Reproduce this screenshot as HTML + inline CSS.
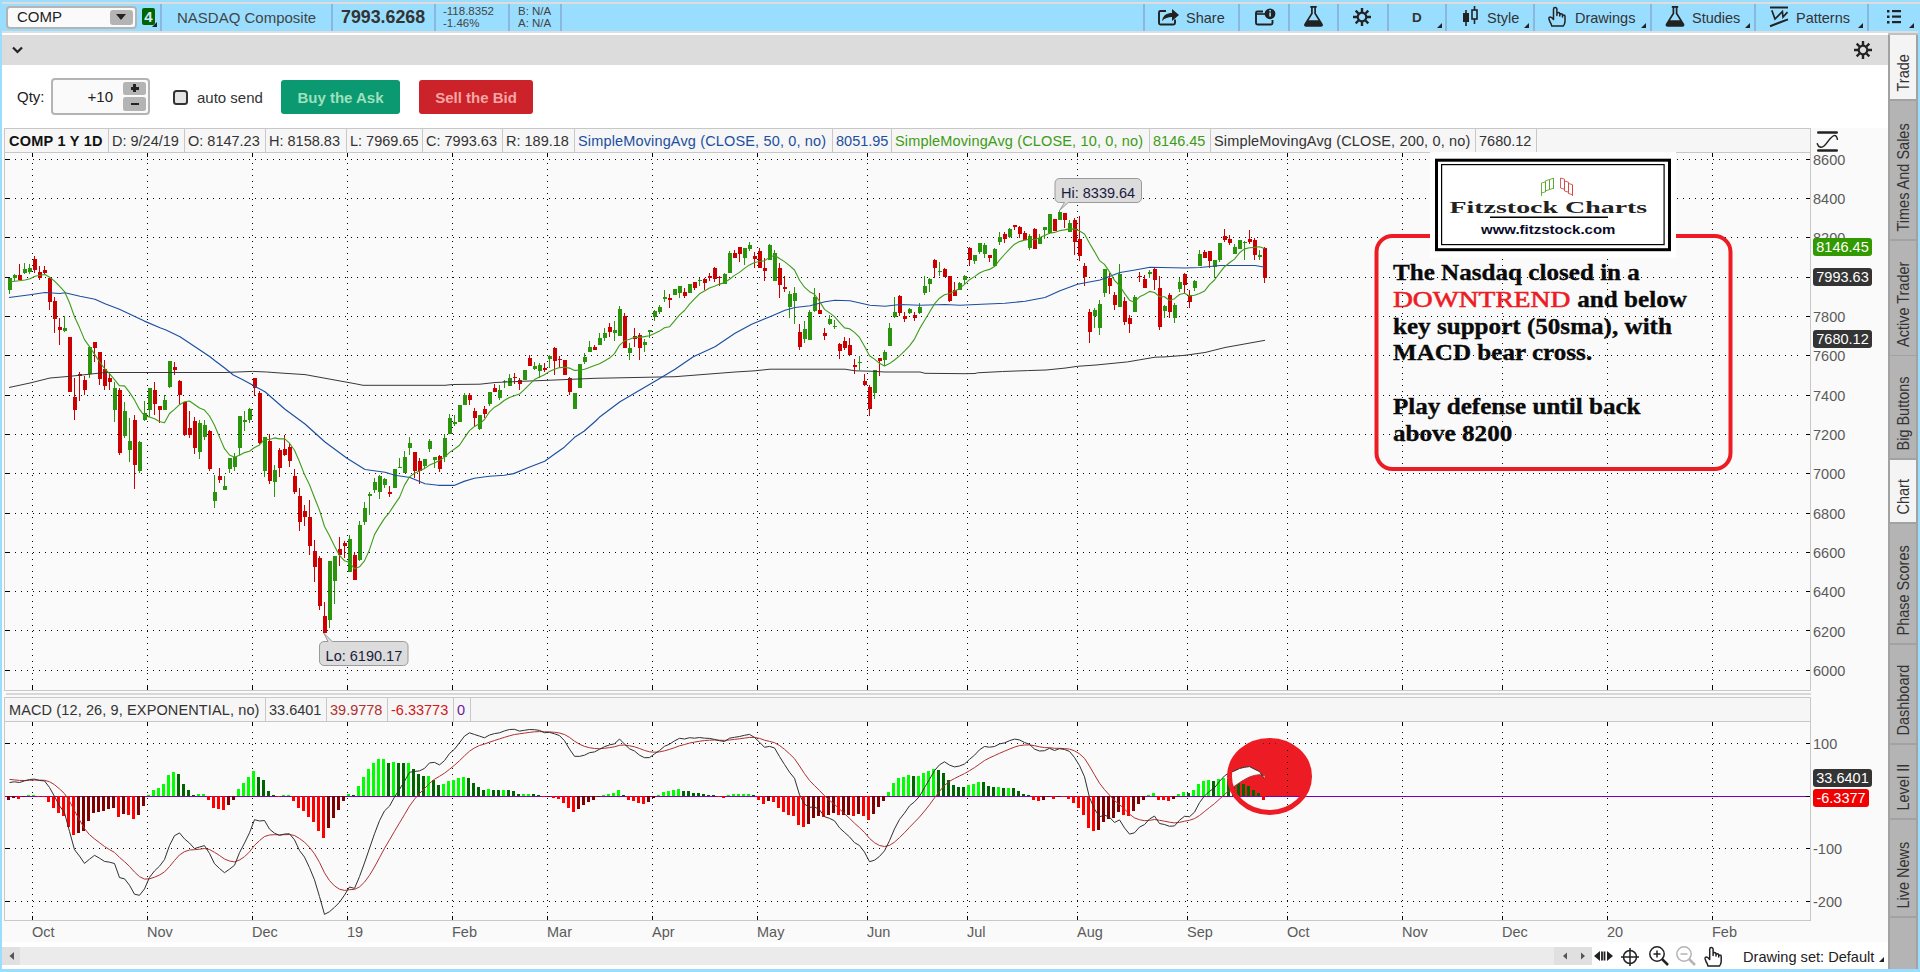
<!DOCTYPE html>
<html><head><meta charset="utf-8"><title>COMP chart</title>
<style>
html,body{margin:0;padding:0;}
body{width:1920px;height:972px;overflow:hidden;background:#fff;font-family:"Liberation Sans",sans-serif;font-size:14.5px;color:#333;position:relative;}
.abs{position:absolute;}
.tb{position:absolute;left:0;top:0;width:1920px;height:31px;background:#9adeff;}
.sep{position:absolute;top:4px;width:2px;height:27px;background:#8ab8dc;}
.tbt{position:absolute;top:8.700px;font-size:14.5px;color:#333;white-space:nowrap;line-height:18px;}
.tri{position:absolute;width:0;height:0;border-left:5px solid transparent;border-bottom:5px solid #222;}
.hc{position:absolute;top:0;height:23px;line-height:25px;border-right:1px solid #c8c8c8;white-space:nowrap;font-size:14.5px;box-sizing:border-box;padding-left:4px;color:#333;}
.vt{position:absolute;left:1888px;width:28px;white-space:nowrap;font-size:14.5px;color:#333;}
.vt span{position:absolute;left:50%;top:50%;transform:translate(-50%,-50%) rotate(-90deg);display:block;}
.badge{position:absolute;left:1813px;height:18px;line-height:19px;border-radius:3px;color:#fff;font-size:14.5px;text-align:center;}
.ylab{position:absolute;left:1813px;font-size:14.5px;color:#5a5a5a;line-height:16px;}
.xlab{position:absolute;top:924.400px;font-size:14.5px;color:#5a5a5a;line-height:16px;}
</style></head><body>

<div class="tb"></div>
<div class="abs" style="left:0;top:2px;width:1920px;height:2px;background:#e0dcdc"></div>
<div class="abs" style="left:0;top:31px;width:1920px;height:2px;background:#dedede"></div>
<div class="abs" style="left:0;top:35px;width:1888px;height:30px;background:#dcdcdc"></div>
<div class="abs" style="left:6px;top:6px;width:131px;height:23px;box-sizing:border-box;border:2px solid #b4b4b4;border-radius:4px;background:#fafafa"></div>
<div class="abs" style="left:17px;top:8px;font-size:15px;line-height:18px;color:#222">COMP</div>
<div class="abs" style="left:110px;top:10px;width:23px;height:15px;background:#b4b4b4;border-radius:3px"></div>
<div class="abs" style="left:115.5px;top:14px;width:0;height:0;border-left:5.5px solid transparent;border-right:5.5px solid transparent;border-top:6px solid #222"></div>
<div class="abs" style="left:142px;top:8px;width:13px;height:17px;background:#006400;border-radius:2px;color:#cfe8ff;font-weight:bold;font-size:15px;line-height:17px;text-align:center">4</div>
<div class="tri" style="left:152px;top:22px"></div>
<div class="sep" style="left:160px"></div>
<div class="sep" style="left:331px"></div>
<div class="sep" style="left:434px"></div>
<div class="sep" style="left:508px"></div>
<div class="sep" style="left:560px"></div>
<div class="sep" style="left:1143px"></div>
<div class="sep" style="left:1238px"></div>
<div class="sep" style="left:1288px"></div>
<div class="sep" style="left:1337px"></div>
<div class="sep" style="left:1387px"></div>
<div class="sep" style="left:1445px"></div>
<div class="sep" style="left:1533px"></div>
<div class="sep" style="left:1650px"></div>
<div class="sep" style="left:1754px"></div>
<div class="sep" style="left:1867px"></div>
<div class="tbt" style="left:177px;color:#444;font-size:15px">NASDAQ Composite</div>
<div class="abs" style="left:341px;top:7px;font-size:17.800px;font-weight:bold;color:#333;line-height:20px">7993.6268</div>
<div class="abs" style="left:443px;top:5px;font-size:11.5px;line-height:12px;color:#444">-118.8352<br>-1.46%</div>
<div class="abs" style="left:518px;top:5px;font-size:11.5px;line-height:12px;color:#444">B: N/A<br>A: N/A</div>
<div class="tbt" style="left:1186px">Share</div>
<div class="tbt" style="left:1412px;font-weight:bold;font-size:13.5px">D</div>
<div class="tbt" style="left:1487px">Style</div>
<div class="tbt" style="left:1575px">Drawings</div>
<div class="tbt" style="left:1692px">Studies</div>
<div class="tbt" style="left:1796px">Patterns</div>
<div class="tri" style="left:1437px;top:23px"></div>
<div class="tri" style="left:1524px;top:23px"></div>
<div class="tri" style="left:1641px;top:23px"></div>
<div class="tri" style="left:1745px;top:23px"></div>
<div class="tri" style="left:1858px;top:23px"></div>
<div class="tri" style="left:1909px;top:23px"></div>
<svg class="abs" style="left:0;top:0" width="1920" height="70" viewBox="0 0 1920 70" fill="none" stroke="#222" stroke-width="1.6">
<!-- share -->
<path d="M1166 11 h-5.500 q-1.500 0 -1.500 1.500 v10.500 q0 1.500 1.500 1.500 h13 q1.500 0 1.500 -1.500 v-3.500" stroke-width="1.900"/>
<path d="M1162 21 c1 -6 5 -8 10 -8 v-4 l7 6 -7 6 v-4 c-4 0 -7 1 -10 4z" fill="#222" stroke="none"/>
<!-- news/info -->
<path d="M1263 11.500 h-5.500 q-1.500 0 -1.500 1.500 v10 q0 1.500 1.500 1.500 h13.500 q1.500 0 1.500 -1.500 v-3" stroke-width="1.900"/>
<path d="M1256 14 h9" />
<circle cx="1270" cy="13.800" r="5.400" fill="#222" stroke="none"/>
<rect x="1269.3" y="12.5" width="1.6" height="4" fill="#9adeff" stroke="none"/><rect x="1269.3" y="10" width="1.6" height="1.5" fill="#9adeff" stroke="none"/>
<!-- flask1 -->
<g><path d="M1310.300 6.900 h6.400" stroke-width="1.800"/><path d="M1311.900 7 v6.500 l-6.700 10.600 q-0.900 1.700 1 1.700 h14.600 q1.900 0 1 -1.700 l-6.700 -10.600 v-6.500" stroke-width="1.700"/><path d="M1307.700 20.200 h11.600 l3 4.700 q0.500 1 -0.800 1 h-16 q-1.300 0 -0.800 -1z" fill="#222" stroke="none"/></g>
<!-- gear1 -->
<g transform="translate(1362,17)"><circle r="4.300" stroke-width="2.200"/><g stroke-width="2.400"><path d="M0 -5 v-4 M0 5 v4 M-5 0 h-4 M5 0 h4 M3.500 3.500 l2.800 2.800 M-3.500 3.500 l-2.800 2.800 M3.500 -3.500 l2.800 -2.800 M-3.500 -3.500 l-2.800 -2.800"/></g></g>
<!-- style candles -->
<rect x="1463" y="13" width="6" height="9" fill="#222" stroke="none"/><path d="M1466 10 v16" />
<rect x="1472" y="10" width="5" height="9" /><path d="M1474.500 6 v4 M1474.500 19 v5" />
<!-- hand drawings -->
<g stroke-width="1.500" stroke-linecap="round" stroke-linejoin="round"><path d="M1553.500 19.500 V9.200 a1.700 1.700 0 0 1 3.400 0 V15.500 M1556.900 14 a1.450 1.450 0 0 1 2.900 0 V16 M1559.800 15 a1.350 1.350 0 0 1 2.700 0 V17 M1562.500 16.300 a1.250 1.250 0 0 1 2.500 0 V21.500 q0 2.200 -1.800 4.600 H1551.800 q-0.400 -2.400 -2 -4.600 l-0.900 -2.800 q-0.200 -1.600 1.400 -1.600 q1.300 0 3.200 2.400"/></g>
<!-- flask studies -->
<g transform="translate(361.500 0)"><path d="M1310.300 6.900 h6.400" stroke-width="1.800"/><path d="M1311.900 7 v6.500 l-6.700 10.600 q-0.900 1.700 1 1.700 h14.600 q1.900 0 1 -1.700 l-6.700 -10.600 v-6.500" stroke-width="1.700"/><path d="M1307.700 20.200 h11.600 l3 4.700 q0.500 1 -0.800 1 h-16 q-1.300 0 -0.800 -1z" fill="#222" stroke="none"/></g>
<!-- patterns -->
<path d="M1770 7.600 h18 M1770 26.200 l18 -6.800" stroke-width="2"/><path d="M1771.800 10.200 l3.200 8.800 7.400 -7.500 0.600 5.500 4.500 -4.800" stroke-width="1.700"/>
<!-- list -->
<g fill="#222" stroke="none"><rect x="1887" y="10" width="2.500" height="2.500"/><rect x="1887" y="15.500" width="2.500" height="2.500"/><rect x="1887" y="21" width="2.500" height="2.500"/><rect x="1892" y="10" width="9" height="2.200"/><rect x="1892" y="15.500" width="9" height="2.200"/><rect x="1892" y="21" width="9" height="2.200"/></g>
<!-- chevron -->
<path d="M13 47.500 l4.500 4.500 4.500 -4.500" stroke-width="2.200"/>
<!-- gear2 -->
<g transform="translate(1863,50)"><circle r="4.300" stroke-width="2.200"/><g stroke-width="2.400"><path d="M0 -5 v-4 M0 5 v4 M-5 0 h-4 M5 0 h4 M3.500 3.500 l2.800 2.800 M-3.500 3.500 l-2.800 2.800 M3.500 -3.500 l2.800 -2.800 M-3.500 -3.500 l-2.800 -2.800"/></g></g>
</svg>
<div class="abs" style="left:17px;top:88px;font-size:15px;line-height:18px;color:#222">Qty:</div>
<div class="abs" style="left:51px;top:78px;width:99px;height:37px;box-sizing:border-box;border:2px solid #b4b4b4;border-radius:4px;background:#fafafa"></div>
<div class="abs" style="left:60px;top:88px;width:53px;text-align:right;font-size:15px;line-height:18px;color:#222">+10</div>
<div class="abs" style="left:123px;top:82px;width:23px;height:13px;background:#b4b4b4;border-radius:2.500px"></div>
<div class="abs" style="left:123px;top:97px;width:23px;height:14px;background:#b4b4b4;border-radius:2.500px"></div>
<div class="abs" style="left:130.500px;top:87px;width:8px;height:2.500px;background:#222"></div><div class="abs" style="left:133.300px;top:84.200px;width:2.500px;height:8px;background:#222"></div>
<div class="abs" style="left:130.500px;top:102.500px;width:8px;height:2.500px;background:#222"></div>
<div class="abs" style="left:173px;top:90px;width:15px;height:15px;box-sizing:border-box;border:2px solid #333;border-radius:3.500px;background:#e4e6e4"></div>
<div class="abs" style="left:197px;top:89px;font-size:15px;line-height:18px;color:#333">auto send</div>
<div class="abs" style="left:281px;top:80px;width:119px;height:34px;background:#0a9970;border-radius:3px;color:#9fe0bd;font-weight:bold;font-size:15px;line-height:35px;text-align:center">Buy the Ask</div>
<div class="abs" style="left:419px;top:80px;width:114px;height:34px;background:#cc2229;border-radius:3px;color:#f5a6a6;font-weight:bold;font-size:15px;line-height:35px;text-align:center">Sell the Bid</div>
<div class="abs" style="left:1888px;top:33px;width:30px;height:936px;background:#b4b4b4;box-sizing:border-box;border-left:2px solid #a2a2a2;border-right:2px solid #a2a2a2"></div>
<div class="abs" style="left:1918px;top:31px;width:2px;height:941px;background:#9adeff"></div>
<div class="abs" style="left:1888px;top:33px;width:30px;height:2px;background:#c4c0c0"></div>
<div class="abs" style="left:1890px;top:35px;width:26px;height:64px;background:#f4f4f4"></div>
<div class="abs" style="left:1888px;top:99px;width:30px;height:1.500px;background:#a2a2a2"></div>
<div class="abs" style="left:1888px;top:239px;width:30px;height:1.500px;background:#a2a2a2"></div>
<div class="abs" style="left:1888px;top:354.5px;width:30px;height:1.500px;background:#a2a2a2"></div>
<div class="abs" style="left:1888px;top:458px;width:30px;height:1.500px;background:#a2a2a2"></div>
<div class="abs" style="left:1890px;top:460px;width:26px;height:62px;background:#f4f4f4"></div>
<div class="abs" style="left:1888px;top:522px;width:30px;height:1.500px;background:#a2a2a2"></div>
<div class="abs" style="left:1888px;top:643px;width:30px;height:1.500px;background:#a2a2a2"></div>
<div class="abs" style="left:1888px;top:743px;width:30px;height:1.500px;background:#a2a2a2"></div>
<div class="abs" style="left:1888px;top:818px;width:30px;height:1.500px;background:#a2a2a2"></div>
<div class="abs" style="left:1888px;top:916px;width:30px;height:1.500px;background:#a2a2a2"></div>
<svg class="abs" style="left:1880px;top:0" width="40" height="972" viewBox="1880 0 40 972" font-family="Liberation Sans, sans-serif" font-size="14.500" fill="#333"><text transform="translate(1909.300 91.5) rotate(-90) scale(1 1.140)">Trade</text><text transform="translate(1909.300 231.5) rotate(-90) scale(1 1.140)">Times And Sales</text><text transform="translate(1909.300 347.0) rotate(-90) scale(1 1.140)">Active Trader</text><text transform="translate(1909.300 450.5) rotate(-90) scale(1 1.140)">Big Buttons</text><text transform="translate(1909.300 514.5) rotate(-90) scale(1 1.140)">Chart</text><text transform="translate(1909.300 635.5) rotate(-90) scale(1 1.140)">Phase Scores</text><text transform="translate(1909.300 735.5) rotate(-90) scale(1 1.140)">Dashboard</text><text transform="translate(1909.300 810.5) rotate(-90) scale(1 1.140)">Level II</text><text transform="translate(1909.300 908.5) rotate(-90) scale(1 1.140)">Live News</text></svg>
<div class="abs" style="left:2px;top:128px;width:1886px;height:818px;background:#fafafa"></div>
<div class="abs" style="left:0;top:0;width:2px;height:972px;background:#9adeff"></div>
<div class="abs" style="left:0;top:969px;width:1920px;height:3px;background:#9adeff"></div>
<div class="abs" style="left:2px;top:942px;width:1886px;height:27px;background:#fff"></div>
<div class="abs" style="left:2px;top:947px;width:1552px;height:18px;background:#ebebeb"></div>
<div class="abs" style="left:2px;top:947px;width:18px;height:18px;background:#e0e0e0"></div>
<div class="abs" style="left:1554px;top:947px;width:38px;height:18px;background:#e0e0e0"></div>
<div class="abs" style="left:4px;top:128px;width:1807px;height:25px;box-sizing:border-box;border:1px solid #c8c8c8;background:#f6f6f6">
<div class="hc" style="left:0px;width:104px;color:#111"><b style="color:#111;letter-spacing:0.250px">COMP 1 Y 1D</b></div>
<div class="hc" style="left:103px;width:77px;color:#333">D: 9/24/19</div>
<div class="hc" style="left:179px;width:82px;color:#333">O: 8147.23</div>
<div class="hc" style="left:260px;width:82px;color:#333">H: 8158.83</div>
<div class="hc" style="left:341px;width:77px;color:#333">L: 7969.65</div>
<div class="hc" style="left:417px;width:81px;color:#333">C: 7993.63</div>
<div class="hc" style="left:497px;width:73px;color:#333">R: 189.18</div>
<div class="hc" style="left:569px;width:259px;color:#1c4fa0"><span style="letter-spacing:0.150px">SimpleMovingAvg (CLOSE, 50, 0, no)</span></div>
<div class="hc" style="left:827px;width:60px;color:#1c4fa0">8051.95</div>
<div class="hc" style="left:886px;width:259px;color:#3c9c14"><span style="letter-spacing:0.150px">SimpleMovingAvg (CLOSE, 10, 0, no)</span></div>
<div class="hc" style="left:1144px;width:62px;color:#3c9c14">8146.45</div>
<div class="hc" style="left:1205px;width:266px;color:#333"><span style="letter-spacing:0.150px">SimpleMovingAvg (CLOSE, 200, 0, no)</span></div>
<div class="hc" style="left:1470px;width:62px;color:#333">7680.12</div>
</div>
<div class="abs" style="left:4px;top:697px;width:1807px;height:25px;box-sizing:border-box;border:1px solid #c8c8c8;background:#f6f6f6">
<div class="hc" style="left:0px;width:261px;color:#333"><span style="letter-spacing:0.120px">MACD (12, 26, 9, EXPONENTIAL, no)</span></div>
<div class="hc" style="left:260px;width:62px;color:#333">33.6401</div>
<div class="hc" style="left:321px;width:62px;color:#b03030">39.9778</div>
<div class="hc" style="left:382px;width:67px;color:#d01818">-6.33773</div>
<div class="hc" style="left:448px;width:18px;color:#6a1b9a">0</div>
</div>
<div class="ylab" style="top:151.8px">8600</div>
<div class="ylab" style="top:191.1px">8400</div>
<div class="ylab" style="top:230.4px">8200</div>
<div class="ylab" style="top:269.7px">8000</div>
<div class="ylab" style="top:309.0px">7800</div>
<div class="ylab" style="top:348.3px">7600</div>
<div class="ylab" style="top:387.6px">7400</div>
<div class="ylab" style="top:427.0px">7200</div>
<div class="ylab" style="top:466.3px">7000</div>
<div class="ylab" style="top:505.6px">6800</div>
<div class="ylab" style="top:544.9px">6600</div>
<div class="ylab" style="top:584.2px">6400</div>
<div class="ylab" style="top:623.5px">6200</div>
<div class="ylab" style="top:662.8px">6000</div>
<div class="ylab" style="top:735.9px">100</div>
<div class="ylab" style="top:841.2px">-100</div>
<div class="ylab" style="top:894.3px">-200</div>
<div class="xlab" style="left:32.0px">Oct</div>
<div class="xlab" style="left:147.0px">Nov</div>
<div class="xlab" style="left:252.0px">Dec</div>
<div class="xlab" style="left:347.0px">19</div>
<div class="xlab" style="left:452.0px">Feb</div>
<div class="xlab" style="left:547.0px">Mar</div>
<div class="xlab" style="left:652.0px">Apr</div>
<div class="xlab" style="left:757.0px">May</div>
<div class="xlab" style="left:867.0px">Jun</div>
<div class="xlab" style="left:967.0px">Jul</div>
<div class="xlab" style="left:1077.0px">Aug</div>
<div class="xlab" style="left:1187.0px">Sep</div>
<div class="xlab" style="left:1287.0px">Oct</div>
<div class="xlab" style="left:1402.0px">Nov</div>
<div class="xlab" style="left:1502.0px">Dec</div>
<div class="xlab" style="left:1607.0px">20</div>
<div class="xlab" style="left:1712.0px">Feb</div>
<div class="badge" style="top:238px;width:59px;background:#339900">8146.45</div>
<div class="badge" style="top:268px;width:59px;background:#343434">7993.63</div>
<div class="badge" style="top:330px;width:59px;background:#343434">7680.12</div>
<div class="badge" style="top:769px;width:59px;background:#343434">33.6401</div>
<div class="badge" style="top:789px;width:56px;background:#f00000">-6.3377</div>
<svg class="abs" style="left:0;top:0" width="1920" height="972" viewBox="0 0 1920 972">
<defs><clipPath id="ellc"><ellipse cx="1269.5" cy="776.4" rx="40" ry="36"/></clipPath></defs><rect x="1220" y="730" width="100" height="66" fill="#ed1c24" clip-path="url(#ellc)"/>
<g stroke="#000" stroke-width="1" stroke-dasharray="1 5" shape-rendering="crispEdges">
<path d="M15 159.5 H1800"/>
<path d="M15 198.5 H1800"/>
<path d="M15 237.5 H1800"/>
<path d="M15 277.5 H1800"/>
<path d="M15 316.5 H1800"/>
<path d="M15 355.5 H1800"/>
<path d="M15 395.5 H1800"/>
<path d="M15 434.5 H1800"/>
<path d="M15 473.5 H1800"/>
<path d="M15 513.5 H1800"/>
<path d="M15 552.5 H1800"/>
<path d="M15 591.5 H1800"/>
<path d="M15 630.5 H1800"/>
<path d="M15 670.5 H1800"/>
<path d="M15 743.5 H1800"/>
<path d="M15 848.5 H1800"/>
<path d="M15 901.5 H1800"/>
<path d="M32.5 163 V686"/><path d="M32.5 732 V916"/>
<path d="M147.5 163 V686"/><path d="M147.5 732 V916"/>
<path d="M252.5 163 V686"/><path d="M252.5 732 V916"/>
<path d="M347.5 163 V686"/><path d="M347.5 732 V916"/>
<path d="M452.5 163 V686"/><path d="M452.5 732 V916"/>
<path d="M547.5 163 V686"/><path d="M547.5 732 V916"/>
<path d="M652.5 163 V686"/><path d="M652.5 732 V916"/>
<path d="M757.5 163 V686"/><path d="M757.5 732 V916"/>
<path d="M867.5 163 V686"/><path d="M867.5 732 V916"/>
<path d="M967.5 163 V686"/><path d="M967.5 732 V916"/>
<path d="M1077.5 163 V686"/><path d="M1077.5 732 V916"/>
<path d="M1187.5 163 V686"/><path d="M1187.5 732 V916"/>
<path d="M1287.5 163 V686"/><path d="M1287.5 732 V916"/>
<path d="M1402.5 163 V686"/><path d="M1402.5 732 V916"/>
<path d="M1502.5 163 V686"/><path d="M1502.5 732 V916"/>
<path d="M1607.5 163 V686"/><path d="M1607.5 732 V916"/>
<path d="M1712.5 163 V686"/><path d="M1712.5 732 V916"/>
</g>
<g stroke="#000" stroke-width="1" shape-rendering="crispEdges">
<path d="M1806 159.5 H1810 M5 159.5 H10"/>
<path d="M1806 198.5 H1810 M5 198.5 H10"/>
<path d="M1806 237.5 H1810 M5 237.5 H10"/>
<path d="M1806 277.5 H1810 M5 277.5 H10"/>
<path d="M1806 316.5 H1810 M5 316.5 H10"/>
<path d="M1806 355.5 H1810 M5 355.5 H10"/>
<path d="M1806 395.5 H1810 M5 395.5 H10"/>
<path d="M1806 434.5 H1810 M5 434.5 H10"/>
<path d="M1806 473.5 H1810 M5 473.5 H10"/>
<path d="M1806 513.5 H1810 M5 513.5 H10"/>
<path d="M1806 552.5 H1810 M5 552.5 H10"/>
<path d="M1806 591.5 H1810 M5 591.5 H10"/>
<path d="M1806 630.5 H1810 M5 630.5 H10"/>
<path d="M1806 670.5 H1810 M5 670.5 H10"/>
<path d="M1806 743.5 H1810 M5 743.5 H10"/>
<path d="M1806 848.5 H1810 M5 848.5 H10"/>
<path d="M1806 901.5 H1810 M5 901.5 H10"/>
<path d="M32.5 153 V157 M32.5 686 V690 M32.5 722 V726 M32.5 916 V920"/>
<path d="M147.5 153 V157 M147.5 686 V690 M147.5 722 V726 M147.5 916 V920"/>
<path d="M252.5 153 V157 M252.5 686 V690 M252.5 722 V726 M252.5 916 V920"/>
<path d="M347.5 153 V157 M347.5 686 V690 M347.5 722 V726 M347.5 916 V920"/>
<path d="M452.5 153 V157 M452.5 686 V690 M452.5 722 V726 M452.5 916 V920"/>
<path d="M547.5 153 V157 M547.5 686 V690 M547.5 722 V726 M547.5 916 V920"/>
<path d="M652.5 153 V157 M652.5 686 V690 M652.5 722 V726 M652.5 916 V920"/>
<path d="M757.5 153 V157 M757.5 686 V690 M757.5 722 V726 M757.5 916 V920"/>
<path d="M867.5 153 V157 M867.5 686 V690 M867.5 722 V726 M867.5 916 V920"/>
<path d="M967.5 153 V157 M967.5 686 V690 M967.5 722 V726 M967.5 916 V920"/>
<path d="M1077.5 153 V157 M1077.5 686 V690 M1077.5 722 V726 M1077.5 916 V920"/>
<path d="M1187.5 153 V157 M1187.5 686 V690 M1187.5 722 V726 M1187.5 916 V920"/>
<path d="M1287.5 153 V157 M1287.5 686 V690 M1287.5 722 V726 M1287.5 916 V920"/>
<path d="M1402.5 153 V157 M1402.5 686 V690 M1402.5 722 V726 M1402.5 916 V920"/>
<path d="M1502.5 153 V157 M1502.5 686 V690 M1502.5 722 V726 M1502.5 916 V920"/>
<path d="M1607.5 153 V157 M1607.5 686 V690 M1607.5 722 V726 M1607.5 916 V920"/>
<path d="M1712.5 153 V157 M1712.5 686 V690 M1712.5 722 V726 M1712.5 916 V920"/>
</g>
<g stroke="#c8c8c8" stroke-width="1" fill="none" shape-rendering="crispEdges">
<path d="M4.500 152 V690.500 H1810.500 V152"/>
<path d="M4.500 721 V920.500 H1810.500 V721"/>
</g>
<path d="M6 694 H1811" stroke="#d8d8d8" stroke-width="2" shape-rendering="crispEdges"/>
<path d="M5 796.500 H1810" stroke="#7a00b8" stroke-width="1" shape-rendering="crispEdges"/>
<path d="M1806 796.500 H1810" stroke="#000" stroke-width="1" shape-rendering="crispEdges"/>
<g shape-rendering="crispEdges"><path d="M9.5 278 V294 M14.5 274 V281 M24.5 263 V274 M29.5 264 V274 M64.5 316 V332 M89.5 346 V378 M114.5 382 V422 M124.5 402 V438 M129.5 418 V462 M139.5 441 V473 M144.5 401 V421 M149.5 388 V417 M164.5 395 V410 M169.5 361 V388 M199.5 420 V459 M204.5 420 V440 M214.5 475 V508 M224.5 476 V490 M229.5 458 V473 M234.5 453 V471 M239.5 416 V455 M244.5 411 V431 M249.5 408 V423 M264.5 437 V477 M274.5 465 V497 M329.5 561 V628 M334.5 556 V604 M349.5 535 V572 M359.5 521 V561 M364.5 502 V525 M369.5 492 V515 M374.5 478 V493 M379.5 475 V499 M384.5 478 V488 M394.5 469 V488 M399.5 458 V468 M404.5 451 V473 M409.5 437 V455 M424.5 459 V468 M429.5 439 V452 M434.5 457 V468 M444.5 434 V462 M449.5 414 V434 M454.5 415 V426 M459.5 405 V422 M464.5 393 V405 M479.5 415 V430 M489.5 392 V406 M499.5 385 V400 M504.5 380 V388 M509.5 374 V386 M524.5 370 V380 M534.5 362 V370 M539.5 363 V378 M549.5 355 V368 M574.5 393 V409 M579.5 364 V388 M584.5 353 V364 M589.5 341 V352 M599.5 333 V345 M604.5 328 V341 M614.5 321 V341 M619.5 306 V336 M629.5 343 V360 M644.5 339 V352 M649.5 330 V338 M654.5 310 V321 M659.5 305 V314 M664.5 290 V302 M674.5 289 V295 M679.5 286 V298 M689.5 284 V293 M699.5 278 V286 M724.5 273 V284 M729.5 251 V273 M744.5 248 V265 M749.5 242 V251 M769.5 244 V260 M774.5 250 V281 M789.5 291 V318 M794.5 287 V324 M804.5 321 V343 M809.5 310 V340 M814.5 288 V312 M829.5 315 V325 M834.5 320 V329 M859.5 356 V370 M874.5 370 V399 M884.5 350 V366 M889.5 323 V346 M894.5 297 V318 M909.5 308 V314 M919.5 303 V314 M924.5 276 V295 M929.5 278 V292 M939.5 262 V276 M959.5 282 V290 M964.5 275 V284 M974.5 255 V264 M979.5 243 V254 M984.5 243 V258 M994.5 248 V266 M999.5 232 V245 M1009.5 228 V238 M1029.5 234 V250 M1039.5 234 V244 M1044.5 227 V239 M1049.5 214 V234 M1059.5 210 V220 M1069.5 220 V232 M1094.5 308 V328 M1099.5 300 V335 M1104.5 269 V297 M1119.5 264 V307 M1134.5 295 V312 M1149.5 270 V278 M1164.5 305 V318 M1174.5 303 V323 M1179.5 278 V292 M1194.5 280 V291 M1199.5 250 V266 M1214.5 260 V278 M1219.5 243 V262 M1234.5 244 V254 M1239.5 240 V249 M1244.5 241 V260 M1259.5 250 V260" stroke="#2a940c" stroke-width="1" fill="none"/><path d="M19.5 264 V280 M34.5 256 V273 M39.5 266 V280 M44.5 266 V274 M49.5 278 V310 M54.5 297 V333 M59.5 318 V345 M69.5 337 V392 M74.5 378 V420 M79.5 372 V401 M84.5 376 V395 M94.5 342 V362 M99.5 352 V385 M104.5 360 V390 M109.5 373 V390 M119.5 388 V455 M134.5 415 V489 M154.5 382 V415 M159.5 406 V423 M174.5 362 V375 M179.5 380 V404 M184.5 402 V436 M189.5 411 V438 M194.5 417 V454 M209.5 430 V471 M219.5 468 V483 M254.5 378 V396 M259.5 391 V444 M269.5 434 V484 M279.5 448 V477 M284.5 435 V456 M289.5 443 V467 M294.5 469 V494 M299.5 488 V531 M304.5 505 V526 M309.5 500 V555 M314.5 540 V582 M319.5 556 V610 M324.5 602 V633 M339.5 537 V566 M344.5 541 V558 M354.5 552 V580 M389.5 486 V497 M414.5 452 V478 M419.5 458 V484 M439.5 455 V472 M469.5 393 V405 M474.5 408 V426 M484.5 406 V418 M494.5 384 V392 M514.5 373 V384 M519.5 378 V390 M529.5 355 V366 M544.5 363 V372 M554.5 347 V375 M559.5 356 V367 M564.5 360 V375 M569.5 377 V395 M594.5 345 V350 M609.5 323 V337 M624.5 313 V348 M634.5 328 V347 M639.5 333 V360 M669.5 294 V308 M684.5 288 V298 M694.5 282 V290 M704.5 278 V290 M709.5 273 V281 M714.5 267 V282 M719.5 276 V286 M734.5 250 V258 M739.5 247 V262 M754.5 252 V268 M759.5 248 V268 M764.5 258 V281 M779.5 263 V298 M784.5 276 V292 M799.5 324 V350 M819.5 293 V314 M824.5 328 V340 M839.5 343 V359 M844.5 337 V350 M849.5 338 V355 M854.5 359 V374 M864.5 374 V386 M869.5 385 V416 M879.5 358 V376 M899.5 295 V316 M904.5 312 V322 M914.5 312 V321 M934.5 259 V278 M944.5 268 V277 M949.5 276 V302 M954.5 282 V296 M969.5 247 V266 M989.5 255 V262 M1004.5 232 V243 M1014.5 225 V230 M1019.5 226 V238 M1024.5 231 V240 M1034.5 228 V249 M1054.5 219 V231 M1064.5 213 V228 M1074.5 218 V255 M1079.5 216 V261 M1084.5 263 V286 M1089.5 309 V343 M1109.5 273 V294 M1114.5 292 V310 M1124.5 297 V325 M1129.5 315 V333 M1139.5 272 V282 M1144.5 275 V288 M1154.5 268 V290 M1159.5 276 V330 M1169.5 293 V318 M1184.5 273 V294 M1189.5 290 V308 M1204.5 250 V258 M1209.5 251 V268 M1224.5 229 V242 M1229.5 235 V245 M1249.5 230 V244 M1254.5 238 V260 M1264.5 247 V283" stroke="#cc0000" stroke-width="1" fill="none"/><path d="M8 278 h4 V290 h-4z M13 275 h4 V278 h-4z M23 269 h4 V273 h-4z M28 268 h4 V272 h-4z M63 328 h4 V331 h-4z M88 347 h4 V374 h-4z M113 388 h4 V410 h-4z M123 411 h4 V436 h-4z M128 441 h4 V450 h-4z M138 442 h4 V471 h-4z M143 413 h4 V420 h-4z M148 388 h4 V410 h-4z M163 400 h4 V410 h-4z M168 361 h4 V387 h-4z M198 423 h4 V452 h-4z M203 425 h4 V437 h-4z M213 492 h4 V501 h-4z M223 486 h4 V490 h-4z M228 458 h4 V469 h-4z M233 457 h4 V467 h-4z M238 416 h4 V448 h-4z M243 420 h4 V422 h-4z M248 409 h4 V420 h-4z M263 437 h4 V471 h-4z M273 470 h4 V482 h-4z M328 561 h4 V620 h-4z M333 556 h4 V581 h-4z M348 539 h4 V572 h-4z M358 525 h4 V560 h-4z M363 508 h4 V522 h-4z M368 494 h4 V496 h-4z M373 482 h4 V490 h-4z M378 476 h4 V492 h-4z M383 479 h4 V485 h-4z M393 469 h4 V488 h-4z M398 467 h4 V468 h-4z M403 457 h4 V473 h-4z M408 443 h4 V448 h-4z M423 459 h4 V466 h-4z M428 441 h4 V449 h-4z M433 457 h4 V460 h-4z M443 438 h4 V457 h-4z M448 418 h4 V434 h-4z M453 422 h4 V424 h-4z M458 405 h4 V422 h-4z M463 395 h4 V405 h-4z M478 415 h4 V429 h-4z M488 392 h4 V404 h-4z M498 390 h4 V398 h-4z M503 381 h4 V382 h-4z M508 378 h4 V386 h-4z M523 370 h4 V380 h-4z M533 366 h4 V369 h-4z M538 365 h4 V371 h-4z M548 356 h4 V359 h-4z M573 393 h4 V409 h-4z M578 364 h4 V388 h-4z M583 357 h4 V362 h-4z M588 347 h4 V352 h-4z M598 338 h4 V345 h-4z M603 333 h4 V338 h-4z M613 330 h4 V333 h-4z M618 309 h4 V336 h-4z M628 348 h4 V353 h-4z M643 342 h4 V345 h-4z M648 330 h4 V332 h-4z M653 311 h4 V317 h-4z M658 307 h4 V312 h-4z M663 297 h4 V299 h-4z M673 289 h4 V295 h-4z M678 286 h4 V293 h-4z M688 284 h4 V293 h-4z M698 280 h4 V281 h-4z M723 274 h4 V284 h-4z M728 253 h4 V273 h-4z M743 248 h4 V258 h-4z M748 245 h4 V249 h-4z M768 245 h4 V260 h-4z M773 253 h4 V281 h-4z M788 294 h4 V307 h-4z M793 293 h4 V301 h-4z M803 329 h4 V339 h-4z M808 312 h4 V340 h-4z M813 297 h4 V311 h-4z M828 319 h4 V324 h-4z M833 326 h4 V327 h-4z M858 362 h4 V363 h-4z M873 370 h4 V393 h-4z M883 352 h4 V360 h-4z M888 328 h4 V346 h-4z M893 312 h4 V317 h-4z M908 309 h4 V313 h-4z M918 307 h4 V313 h-4z M923 286 h4 V293 h-4z M928 279 h4 V284 h-4z M938 271 h4 V272 h-4z M958 283 h4 V290 h-4z M963 276 h4 V280 h-4z M973 255 h4 V261 h-4z M978 243 h4 V252 h-4z M983 245 h4 V254 h-4z M993 249 h4 V266 h-4z M998 237 h4 V242 h-4z M1008 229 h4 V237 h-4z M1028 236 h4 V248 h-4z M1038 238 h4 V244 h-4z M1043 227 h4 V230 h-4z M1048 214 h4 V233 h-4z M1058 212 h4 V220 h-4z M1068 223 h4 V232 h-4z M1093 310 h4 V316 h-4z M1098 304 h4 V328 h-4z M1103 269 h4 V293 h-4z M1118 274 h4 V307 h-4z M1133 297 h4 V312 h-4z M1148 272 h4 V274 h-4z M1163 306 h4 V311 h-4z M1173 305 h4 V318 h-4z M1178 282 h4 V289 h-4z M1193 281 h4 V288 h-4z M1198 254 h4 V266 h-4z M1213 260 h4 V267 h-4z M1218 243 h4 V260 h-4z M1233 247 h4 V254 h-4z M1238 240 h4 V249 h-4z M1243 242 h4 V243 h-4z M1258 255 h4 V257 h-4z" fill="#2a940c"/><path d="M18 275 h4 V280 h-4z M33 259 h4 V270 h-4z M38 272 h4 V278 h-4z M43 270 h4 V273 h-4z M48 278 h4 V302 h-4z M53 301 h4 V319 h-4z M58 327 h4 V330 h-4z M68 337 h4 V392 h-4z M73 397 h4 V410 h-4z M78 374 h4 V376 h-4z M83 380 h4 V390 h-4z M93 342 h4 V348 h-4z M98 352 h4 V379 h-4z M103 369 h4 V386 h-4z M108 378 h4 V382 h-4z M118 390 h4 V453 h-4z M133 420 h4 V465 h-4z M153 390 h4 V404 h-4z M158 406 h4 V410 h-4z M173 367 h4 V370 h-4z M178 381 h4 V395 h-4z M183 402 h4 V435 h-4z M188 428 h4 V435 h-4z M193 421 h4 V448 h-4z M208 431 h4 V469 h-4z M218 476 h4 V480 h-4z M253 378 h4 V388 h-4z M258 393 h4 V443 h-4z M268 441 h4 V481 h-4z M278 450 h4 V468 h-4z M283 449 h4 V455 h-4z M288 447 h4 V461 h-4z M293 476 h4 V492 h-4z M298 496 h4 V522 h-4z M303 511 h4 V517 h-4z M308 517 h4 V546 h-4z M313 551 h4 V567 h-4z M318 558 h4 V606 h-4z M323 616 h4 V633 h-4z M338 549 h4 V555 h-4z M343 543 h4 V546 h-4z M353 555 h4 V580 h-4z M388 492 h4 V494 h-4z M413 452 h4 V471 h-4z M418 461 h4 V471 h-4z M438 456 h4 V469 h-4z M468 395 h4 V400 h-4z M473 411 h4 V418 h-4z M483 409 h4 V414 h-4z M493 388 h4 V392 h-4z M513 377 h4 V378 h-4z M518 380 h4 V384 h-4z M528 358 h4 V366 h-4z M543 368 h4 V370 h-4z M553 348 h4 V361 h-4z M558 359 h4 V360 h-4z M563 360 h4 V375 h-4z M568 378 h4 V392 h-4z M593 347 h4 V350 h-4z M608 327 h4 V332 h-4z M623 316 h4 V348 h-4z M633 336 h4 V339 h-4z M638 335 h4 V348 h-4z M668 298 h4 V300 h-4z M683 292 h4 V296 h-4z M693 282 h4 V288 h-4z M703 279 h4 V283 h-4z M708 276 h4 V278 h-4z M713 268 h4 V279 h-4z M718 277 h4 V278 h-4z M733 253 h4 V258 h-4z M738 247 h4 V254 h-4z M753 256 h4 V259 h-4z M758 251 h4 V268 h-4z M763 268 h4 V271 h-4z M778 268 h4 V285 h-4z M783 287 h4 V289 h-4z M798 332 h4 V347 h-4z M818 310 h4 V314 h-4z M823 333 h4 V336 h-4z M838 344 h4 V351 h-4z M843 341 h4 V348 h-4z M848 345 h4 V355 h-4z M853 365 h4 V367 h-4z M863 381 h4 V385 h-4z M868 387 h4 V409 h-4z M878 358 h4 V361 h-4z M898 296 h4 V313 h-4z M903 316 h4 V319 h-4z M913 315 h4 V318 h-4z M933 260 h4 V268 h-4z M943 269 h4 V277 h-4z M948 276 h4 V301 h-4z M953 290 h4 V296 h-4z M968 248 h4 V260 h-4z M988 255 h4 V258 h-4z M1003 234 h4 V239 h-4z M1013 225 h4 V227 h-4z M1018 227 h4 V234 h-4z M1023 233 h4 V240 h-4z M1033 229 h4 V249 h-4z M1053 219 h4 V231 h-4z M1063 213 h4 V220 h-4z M1073 220 h4 V242 h-4z M1078 239 h4 V256 h-4z M1083 266 h4 V277 h-4z M1088 312 h4 V332 h-4z M1108 278 h4 V286 h-4z M1113 295 h4 V305 h-4z M1123 301 h4 V322 h-4z M1128 318 h4 V324 h-4z M1138 276 h4 V277 h-4z M1143 279 h4 V288 h-4z M1153 269 h4 V280 h-4z M1158 288 h4 V327 h-4z M1168 295 h4 V312 h-4z M1183 274 h4 V285 h-4z M1188 295 h4 V302 h-4z M1203 252 h4 V258 h-4z M1208 251 h4 V261 h-4z M1223 236 h4 V240 h-4z M1228 239 h4 V243 h-4z M1248 239 h4 V242 h-4z M1253 240 h4 V255 h-4z M1263 248 h4 V278 h-4z" fill="#cc0000"/></g>
<path d="M9.0 387.5 L30.0 383.0 L50.0 378.0 L70.0 376.3 L105.0 372.5 L215.0 372.5 L225.0 372.5 L252.5 371.4 L266.7 372.0 L283.0 373.2 L305.0 374.6 L355.0 383.7 L363.0 385.3 L445.0 385.3 L452.5 384.5 L480.0 384.2 L495.0 382.5 L525.0 381.2 L555.0 380.0 L595.0 378.3 L635.0 377.5 L675.0 376.7 L735.0 372.0 L755.0 370.8 L770.0 369.2 L845.0 369.2 L855.0 370.8 L870.0 371.2 L885.0 372.0 L920.0 372.0 L925.0 373.3 L965.0 373.7 L975.0 373.5 L977.5 372.8 L1002.5 371.5 L1027.5 370.6 L1046.0 370.0 L1065.0 368.1 L1077.5 366.3 L1096.0 365.0 L1127.5 361.9 L1155.0 357.2 L1165.0 356.9 L1185.0 355.3 L1205.0 352.5 L1225.0 347.5 L1250.0 343.0 L1265.0 340.3" fill="none" stroke="#383838" stroke-width="1.0" stroke-linejoin="round"/>
<path d="M9.0 297.5 L30.0 294.7 L45.0 292.5 L60.0 293.5 L65.0 292.7 L80.0 296.3 L95.0 299.2 L105.0 303.7 L119.4 309.2 L144.4 321.1 L160.0 327.8 L166.0 330.0 L180.0 336.7 L195.0 346.7 L210.0 356.7 L215.0 360.8 L225.0 368.3 L233.3 375.0 L243.3 380.0 L252.5 385.0 L265.0 391.7 L285.0 409.2 L305.0 424.0 L325.0 442.0 L347.0 458.3 L355.0 463.3 L365.0 469.5 L385.0 472.2 L395.0 475.3 L410.0 477.5 L425.0 483.7 L438.3 485.3 L454.7 485.3 L464.0 481.4 L474.4 478.3 L489.4 476.2 L504.4 475.3 L513.7 473.6 L527.8 467.8 L544.7 461.2 L555.0 453.7 L564.3 447.2 L574.6 437.3 L584.0 431.2 L596.2 420.5 L600.0 416.7 L620.0 401.7 L640.0 390.0 L655.0 381.3 L675.0 369.2 L693.3 356.7 L715.0 346.7 L735.0 333.3 L751.7 324.2 L770.0 316.7 L785.0 310.3 L795.0 307.5 L810.0 305.8 L825.0 301.7 L835.0 300.3 L850.0 300.8 L860.0 303.0 L870.0 305.3 L885.0 306.2 L900.0 304.5 L920.0 305.3 L945.0 304.5 L960.0 305.2 L981.7 304.2 L1005.0 303.3 L1025.0 301.3 L1045.0 297.5 L1060.0 290.8 L1077.5 284.2 L1100.0 280.0 L1120.0 272.5 L1135.0 270.0 L1150.0 267.2 L1185.0 268.0 L1200.0 267.5 L1220.0 265.5 L1255.0 265.5 L1265.0 267.2" fill="none" stroke="#1c4fa0" stroke-width="1.15" stroke-linejoin="round"/>
<path d="M10.0 281.7 L15.0 281.2 L25.0 280.0 L30.0 278.7 L35.0 276.3 L40.0 275.3 L45.0 274.5 L50.0 277.5 L54.5 281.1 L59.5 286.2 L64.5 291.6 L69.5 302.7 L74.5 316.8 L79.5 327.6 L84.5 339.6 L89.5 346.6 L94.5 354.1 L99.5 361.8 L104.5 368.5 L109.5 373.7 L114.5 379.7 L119.5 385.8 L124.5 385.9 L129.5 392.4 L134.5 399.9 L139.5 409.4 L144.5 416.0 L149.5 416.9 L154.5 418.7 L159.5 421.5 L164.5 422.7 L169.5 413.5 L174.5 409.4 L179.5 404.7 L184.5 401.8 L189.5 401.0 L194.5 404.5 L199.5 408.0 L204.5 410.1 L209.5 416.0 L214.5 425.2 L219.5 437.1 L224.5 448.7 L229.5 455.0 L234.5 457.2 L239.5 455.3 L244.5 452.6 L249.5 451.2 L254.5 447.5 L259.5 444.9 L264.5 439.4 L269.5 439.5 L274.5 437.9 L279.5 438.9 L284.5 438.7 L289.5 443.2 L294.5 450.3 L299.5 461.7 L304.5 474.6 L309.5 484.8 L314.5 497.7 L319.5 510.2 L324.5 526.5 L329.5 535.8 L334.5 546.0 L339.5 555.4 L344.5 560.8 L349.5 562.5 L354.5 568.8 L359.5 566.8 L364.5 560.9 L369.5 549.7 L374.5 534.6 L379.5 526.1 L384.5 518.4 L389.5 512.3 L394.5 504.6 L399.5 497.4 L404.5 485.1 L409.5 476.9 L414.5 473.2 L419.5 470.9 L424.5 468.6 L429.5 465.1 L434.5 462.9 L439.5 460.4 L444.5 457.3 L449.5 452.4 L454.5 449.0 L459.5 445.2 L464.5 437.6 L469.5 430.6 L474.5 426.4 L479.5 423.8 L484.5 419.5 L489.5 411.8 L494.5 407.2 L499.5 404.3 L504.5 400.2 L509.5 397.4 L514.5 395.8 L519.5 394.1 L524.5 389.4 L529.5 384.4 L534.5 379.6 L539.5 377.0 L544.5 374.7 L549.5 371.4 L554.5 369.3 L559.5 367.6 L564.5 367.2 L569.5 368.1 L574.5 370.4 L579.5 370.2 L584.5 369.3 L589.5 367.5 L594.5 365.5 L599.5 363.7 L604.5 360.9 L609.5 358.1 L614.5 353.6 L619.5 345.3 L624.5 340.8 L629.5 339.2 L634.5 337.4 L639.5 337.4 L644.5 336.6 L649.5 335.8 L654.5 333.6 L659.5 331.1 L664.5 327.8 L669.5 326.8 L674.5 320.9 L679.5 314.8 L684.5 310.5 L689.5 304.1 L694.5 298.8 L699.5 293.8 L704.5 290.9 L709.5 288.0 L714.5 286.2 L719.5 284.1 L724.5 282.6 L729.5 279.2 L734.5 275.4 L739.5 272.4 L744.5 268.4 L749.5 264.9 L754.5 262.5 L759.5 261.5 L764.5 260.7 L769.5 257.4 L774.5 255.3 L779.5 258.5 L784.5 261.6 L789.5 265.6 L794.5 270.0 L799.5 280.2 L804.5 287.2 L809.5 291.7 L814.5 294.3 L819.5 301.2 L824.5 309.4 L829.5 312.9 L834.5 316.6 L839.5 322.3 L844.5 327.9 L849.5 328.7 L854.5 332.4 L859.5 337.4 L864.5 346.2 L869.5 355.7 L874.5 359.1 L879.5 363.3 L884.5 365.9 L889.5 363.6 L894.5 360.0 L899.5 355.8 L904.5 351.1 L909.5 345.8 L914.5 339.1 L919.5 328.9 L924.5 320.5 L929.5 312.3 L934.5 303.9 L939.5 298.2 L944.5 294.7 L949.5 293.5 L954.5 291.2 L959.5 288.6 L964.5 284.4 L969.5 279.7 L974.5 276.6 L979.5 273.0 L984.5 270.7 L989.5 269.4 L994.5 266.6 L999.5 260.2 L1004.5 254.5 L1009.5 249.1 L1014.5 244.2 L1019.5 241.6 L1024.5 240.1 L1029.5 239.3 L1034.5 239.7 L1039.5 237.7 L1044.5 235.5 L1049.5 233.2 L1054.5 232.4 L1059.5 230.7 L1064.5 229.9 L1069.5 228.9 L1074.5 229.1 L1079.5 231.1 L1084.5 233.9 L1089.5 243.3 L1094.5 251.6 L1099.5 260.6 L1104.5 264.4 L1109.5 271.9 L1114.5 280.4 L1119.5 285.5 L1124.5 293.4 L1129.5 300.2 L1134.5 302.2 L1139.5 296.8 L1144.5 294.5 L1149.5 291.4 L1154.5 292.5 L1159.5 296.6 L1164.5 296.7 L1169.5 300.4 L1174.5 298.7 L1179.5 294.5 L1184.5 293.3 L1189.5 295.9 L1194.5 295.2 L1199.5 293.4 L1204.5 291.1 L1209.5 284.6 L1214.5 280.0 L1219.5 273.2 L1224.5 266.7 L1229.5 262.8 L1234.5 259.1 L1239.5 252.8 L1244.5 248.9 L1249.5 247.7 L1254.5 247.4 L1259.5 246.8 L1264.5 248.6" fill="none" stroke="#3f9c1a" stroke-width="1.1" stroke-linejoin="round"/>
<g shape-rendering="crispEdges"><path d="M27 795 h3 V796 h-3z M32 795 h3 V796 h-3z M147 795 h3 V796 h-3z M152 790 h3 V796 h-3z M157 788 h3 V796 h-3z M162 784 h3 V796 h-3z M167 775 h3 V796 h-3z M172 772 h3 V796 h-3z M197 794 h3 V796 h-3z M202 794 h3 V796 h-3z M237 789 h3 V796 h-3z M242 783 h3 V796 h-3z M247 777 h3 V796 h-3z M252 771 h3 V796 h-3z M282 795 h3 V796 h-3z M287 795 h3 V796 h-3z M347 794 h3 V796 h-3z M357 786 h3 V796 h-3z M362 777 h3 V796 h-3z M367 769 h3 V796 h-3z M372 763 h3 V796 h-3z M377 759 h3 V796 h-3z M382 759 h3 V796 h-3z M392 762 h3 V796 h-3z M407 763 h3 V796 h-3z M427 776 h3 V796 h-3z M442 784 h3 V796 h-3z M447 781 h3 V796 h-3z M452 780 h3 V796 h-3z M457 778 h3 V796 h-3z M462 777 h3 V796 h-3z M487 789 h3 V796 h-3z M502 790 h3 V796 h-3z M522 794 h3 V796 h-3z M527 794 h3 V796 h-3z M602 795 h3 V796 h-3z M607 794 h3 V796 h-3z M612 793 h3 V796 h-3z M617 790 h3 V796 h-3z M657 795 h3 V796 h-3z M662 792 h3 V796 h-3z M667 791 h3 V796 h-3z M672 790 h3 V796 h-3z M677 789 h3 V796 h-3z M727 795 h3 V796 h-3z M732 794 h3 V796 h-3z M737 794 h3 V796 h-3z M742 794 h3 V796 h-3z M747 794 h3 V796 h-3z M887 792 h3 V796 h-3z M892 783 h3 V796 h-3z M897 778 h3 V796 h-3z M902 777 h3 V796 h-3z M907 775 h3 V796 h-3z M917 776 h3 V796 h-3z M922 773 h3 V796 h-3z M927 771 h3 V796 h-3z M932 769 h3 V796 h-3z M967 785 h3 V796 h-3z M972 784 h3 V796 h-3z M977 782 h3 V796 h-3z M997 787 h3 V796 h-3z M1007 788 h3 V796 h-3z M1147 795 h3 V796 h-3z M1152 793 h3 V796 h-3z M1177 794 h3 V796 h-3z M1182 792 h3 V796 h-3z M1192 790 h3 V796 h-3z M1197 784 h3 V796 h-3z M1202 781 h3 V796 h-3z M1207 780 h3 V796 h-3z M1217 779 h3 V796 h-3z M1222 778 h3 V796 h-3z" fill="#00ff00"/><path d="M177 774 h3 V796 h-3z M182 784 h3 V796 h-3z M187 790 h3 V796 h-3z M192 795 h3 V796 h-3z M257 777 h3 V796 h-3z M262 780 h3 V796 h-3z M267 791 h3 V796 h-3z M272 795 h3 V796 h-3z M352 795 h3 V796 h-3z M387 763 h3 V796 h-3z M397 763 h3 V796 h-3z M402 763 h3 V796 h-3z M412 769 h3 V796 h-3z M417 774 h3 V796 h-3z M422 776 h3 V796 h-3z M432 780 h3 V796 h-3z M437 785 h3 V796 h-3z M467 778 h3 V796 h-3z M472 783 h3 V796 h-3z M477 787 h3 V796 h-3z M482 790 h3 V796 h-3z M492 790 h3 V796 h-3z M497 790 h3 V796 h-3z M507 790 h3 V796 h-3z M512 791 h3 V796 h-3z M517 794 h3 V796 h-3z M532 794 h3 V796 h-3z M537 795 h3 V796 h-3z M622 795 h3 V796 h-3z M682 791 h3 V796 h-3z M687 791 h3 V796 h-3z M692 793 h3 V796 h-3z M697 793 h3 V796 h-3z M702 794 h3 V796 h-3z M707 795 h3 V796 h-3z M712 795 h3 V796 h-3z M752 795 h3 V796 h-3z M912 776 h3 V796 h-3z M937 770 h3 V796 h-3z M942 773 h3 V796 h-3z M947 780 h3 V796 h-3z M952 785 h3 V796 h-3z M957 787 h3 V796 h-3z M962 787 h3 V796 h-3z M982 782 h3 V796 h-3z M987 786 h3 V796 h-3z M992 787 h3 V796 h-3z M1002 788 h3 V796 h-3z M1012 788 h3 V796 h-3z M1017 791 h3 V796 h-3z M1022 794 h3 V796 h-3z M1027 795 h3 V796 h-3z M1187 793 h3 V796 h-3z M1212 781 h3 V796 h-3z M1227 779 h3 V796 h-3z M1232 781 h3 V796 h-3z M1237 782 h3 V796 h-3z M1242 784 h3 V796 h-3z M1247 786 h3 V796 h-3z M1252 790 h3 V796 h-3z M1257 793 h3 V796 h-3z" fill="#006400"/><path d="M17 796 h3 V799 h-3z M37 796 h3 V797 h-3z M42 796 h3 V797 h-3z M47 796 h3 V802 h-3z M52 796 h3 V808 h-3z M57 796 h3 V813 h-3z M62 796 h3 V816 h-3z M67 796 h3 V827 h-3z M72 796 h3 V835 h-3z M117 796 h3 V817 h-3z M127 796 h3 V815 h-3z M132 796 h3 V819 h-3z M207 796 h3 V800 h-3z M212 796 h3 V808 h-3z M217 796 h3 V809 h-3z M222 796 h3 V810 h-3z M277 796 h3 V797 h-3z M292 796 h3 V801 h-3z M297 796 h3 V808 h-3z M302 796 h3 V811 h-3z M307 796 h3 V817 h-3z M312 796 h3 V822 h-3z M317 796 h3 V831 h-3z M322 796 h3 V838 h-3z M542 796 h3 V797 h-3z M552 796 h3 V798 h-3z M557 796 h3 V799 h-3z M562 796 h3 V803 h-3z M567 796 h3 V808 h-3z M572 796 h3 V812 h-3z M627 796 h3 V800 h-3z M632 796 h3 V801 h-3z M637 796 h3 V803 h-3z M642 796 h3 V804 h-3z M717 796 h3 V797 h-3z M722 796 h3 V798 h-3z M757 796 h3 V800 h-3z M762 796 h3 V804 h-3z M772 796 h3 V802 h-3z M777 796 h3 V808 h-3z M782 796 h3 V812 h-3z M787 796 h3 V815 h-3z M792 796 h3 V816 h-3z M797 796 h3 V825 h-3z M802 796 h3 V827 h-3z M822 796 h3 V817 h-3z M837 796 h3 V815 h-3z M852 796 h3 V816 h-3z M862 796 h3 V816 h-3z M867 796 h3 V820 h-3z M1032 796 h3 V800 h-3z M1037 796 h3 V801 h-3z M1052 796 h3 V799 h-3z M1062 796 h3 V797 h-3z M1067 796 h3 V799 h-3z M1072 796 h3 V803 h-3z M1077 796 h3 V808 h-3z M1082 796 h3 V815 h-3z M1087 796 h3 V828 h-3z M1092 796 h3 V831 h-3z M1122 796 h3 V815 h-3z M1127 796 h3 V816 h-3z M1157 796 h3 V800 h-3z M1162 796 h3 V800 h-3z M1167 796 h3 V801 h-3z M1262 796 h3 V800 h-3z" fill="#ff0000"/><path d="M7 796 h3 V800 h-3z M12 796 h3 V798 h-3z M22 796 h3 V797 h-3z M77 796 h3 V833 h-3z M82 796 h3 V831 h-3z M87 796 h3 V821 h-3z M92 796 h3 V813 h-3z M97 796 h3 V812 h-3z M102 796 h3 V811 h-3z M107 796 h3 V809 h-3z M112 796 h3 V808 h-3z M122 796 h3 V814 h-3z M137 796 h3 V815 h-3z M142 796 h3 V806 h-3z M227 796 h3 V805 h-3z M232 796 h3 V800 h-3z M327 796 h3 V828 h-3z M332 796 h3 V818 h-3z M337 796 h3 V810 h-3z M342 796 h3 V801 h-3z M547 796 h3 V797 h-3z M577 796 h3 V809 h-3z M582 796 h3 V805 h-3z M587 796 h3 V802 h-3z M592 796 h3 V800 h-3z M597 796 h3 V797 h-3z M647 796 h3 V802 h-3z M652 796 h3 V798 h-3z M767 796 h3 V801 h-3z M807 796 h3 V824 h-3z M812 796 h3 V818 h-3z M817 796 h3 V816 h-3z M827 796 h3 V815 h-3z M832 796 h3 V813 h-3z M842 796 h3 V815 h-3z M847 796 h3 V815 h-3z M857 796 h3 V814 h-3z M872 796 h3 V814 h-3z M877 796 h3 V807 h-3z M882 796 h3 V801 h-3z M1042 796 h3 V800 h-3z M1047 796 h3 V797 h-3z M1057 796 h3 V797 h-3z M1097 796 h3 V830 h-3z M1102 796 h3 V822 h-3z M1107 796 h3 V819 h-3z M1112 796 h3 V818 h-3z M1117 796 h3 V812 h-3z M1132 796 h3 V811 h-3z M1137 796 h3 V804 h-3z M1142 796 h3 V800 h-3z M1172 796 h3 V799 h-3z" fill="#800000"/></g>
<path d="M1224.5 775.9 L1229.5 772.5 L1234.5 770.9 L1239.5 768.5 L1244.5 767.3 L1249.5 766.6 L1254.5 769.2 L1259.5 771.6 L1264.5 778.7 L1264.5 775.5 L1259.5 774.7 L1254.5 775.4 L1249.5 777.0 L1244.5 779.6 L1239.5 782.7 L1234.5 786.2 L1229.5 790.1 L1224.5 794.5z" fill="#fafafa" clip-path="url(#ellc)"/>
<path d="M9.5 779.4 L14.5 779.9 L19.5 780.4 L24.5 780.5 L29.5 780.3 L34.5 780.1 L39.5 780.1 L44.5 780.3 L49.5 781.7 L54.5 784.7 L59.5 788.9 L64.5 793.6 L69.5 801.2 L74.5 810.9 L79.5 819.9 L84.5 828.6 L89.5 834.7 L94.5 838.9 L99.5 842.7 L104.5 846.5 L109.5 849.6 L114.5 852.4 L119.5 857.4 L124.5 861.7 L129.5 866.4 L134.5 872.0 L139.5 876.6 L144.5 879.1 L149.5 878.8 L154.5 877.2 L159.5 875.0 L164.5 871.9 L169.5 866.6 L174.5 860.5 L179.5 854.9 L184.5 851.7 L189.5 850.0 L194.5 849.7 L199.5 849.2 L204.5 848.5 L209.5 849.5 L214.5 852.3 L219.5 855.5 L224.5 859.0 L229.5 861.0 L234.5 861.9 L239.5 860.0 L244.5 856.7 L249.5 851.9 L254.5 845.4 L259.5 840.6 L264.5 836.5 L269.5 835.0 L274.5 834.7 L279.5 834.8 L284.5 834.7 L289.5 834.5 L294.5 835.5 L299.5 838.5 L304.5 842.2 L309.5 847.3 L314.5 853.8 L319.5 862.4 L324.5 872.8 L329.5 880.6 L334.5 885.9 L339.5 889.2 L344.5 890.4 L349.5 889.7 L354.5 889.4 L359.5 886.9 L364.5 882.1 L369.5 875.3 L374.5 867.0 L379.5 857.7 L384.5 848.4 L389.5 839.9 L394.5 831.3 L399.5 822.9 L404.5 814.6 L409.5 806.1 L414.5 799.2 L419.5 793.5 L424.5 788.5 L429.5 783.4 L434.5 779.2 L439.5 776.3 L444.5 773.2 L449.5 769.3 L454.5 765.2 L459.5 760.7 L464.5 755.8 L469.5 751.2 L474.5 747.9 L479.5 745.5 L484.5 744.0 L489.5 742.2 L494.5 740.5 L499.5 738.9 L504.5 737.3 L509.5 735.8 L514.5 734.5 L519.5 733.8 L524.5 733.1 L529.5 732.4 L534.5 731.8 L539.5 731.6 L544.5 731.8 L549.5 731.9 L554.5 732.3 L559.5 733.0 L564.5 734.5 L569.5 737.4 L574.5 741.2 L579.5 744.2 L584.5 746.4 L589.5 747.7 L594.5 748.5 L599.5 748.7 L604.5 748.3 L609.5 747.6 L614.5 746.8 L619.5 745.3 L624.5 745.0 L629.5 745.8 L634.5 746.8 L639.5 748.5 L644.5 750.4 L649.5 751.8 L654.5 752.2 L659.5 751.9 L664.5 750.8 L669.5 749.4 L674.5 747.7 L679.5 745.8 L684.5 744.5 L689.5 743.1 L694.5 742.1 L699.5 741.2 L704.5 740.6 L709.5 740.2 L714.5 740.0 L719.5 740.2 L724.5 740.4 L729.5 740.0 L734.5 739.4 L739.5 738.8 L744.5 738.1 L749.5 737.4 L754.5 737.4 L759.5 738.4 L764.5 740.2 L769.5 741.4 L774.5 742.7 L779.5 745.5 L784.5 749.3 L789.5 753.8 L794.5 758.7 L799.5 766.0 L804.5 773.6 L809.5 780.4 L814.5 785.6 L819.5 790.5 L824.5 795.7 L829.5 800.3 L834.5 804.4 L839.5 809.0 L844.5 813.7 L849.5 818.3 L854.5 823.2 L859.5 827.7 L864.5 832.5 L869.5 838.4 L874.5 842.7 L879.5 845.5 L884.5 846.5 L889.5 845.4 L894.5 842.1 L899.5 837.6 L904.5 832.7 L909.5 827.3 L914.5 822.2 L919.5 817.0 L924.5 811.1 L929.5 804.8 L934.5 797.9 L939.5 791.3 L944.5 785.4 L949.5 781.3 L954.5 778.5 L959.5 776.0 L964.5 773.6 L969.5 770.7 L974.5 767.6 L979.5 764.1 L984.5 760.5 L989.5 757.9 L994.5 755.6 L999.5 753.3 L1004.5 751.2 L1009.5 749.1 L1014.5 747.1 L1019.5 745.6 L1024.5 745.0 L1029.5 744.9 L1034.5 745.7 L1039.5 746.8 L1044.5 747.6 L1049.5 747.7 L1054.5 748.3 L1059.5 748.3 L1064.5 748.6 L1069.5 749.1 L1074.5 750.8 L1079.5 753.8 L1084.5 758.4 L1089.5 766.2 L1094.5 774.8 L1099.5 783.2 L1104.5 789.6 L1109.5 795.1 L1114.5 800.6 L1119.5 804.5 L1124.5 809.1 L1129.5 814.1 L1134.5 817.9 L1139.5 819.7 L1144.5 820.7 L1149.5 820.4 L1154.5 819.5 L1159.5 820.3 L1164.5 821.2 L1169.5 822.2 L1174.5 822.9 L1179.5 822.4 L1184.5 821.2 L1189.5 820.3 L1194.5 818.6 L1199.5 815.5 L1204.5 811.5 L1209.5 807.5 L1214.5 803.6 L1219.5 799.1 L1224.5 794.5 L1229.5 790.1 L1234.5 786.2 L1239.5 782.7 L1244.5 779.6 L1249.5 777.0 L1254.5 775.4 L1259.5 774.7 L1264.5 775.5" fill="none" stroke="#b03030" stroke-width="1.0" stroke-linejoin="round"/>
<path d="M9.5 782.5 L14.5 781.8 L19.5 782.5 L24.5 780.9 L29.5 779.5 L34.5 779.1 L39.5 780.5 L44.5 780.9 L49.5 787.5 L54.5 796.4 L59.5 805.8 L64.5 812.7 L69.5 831.4 L74.5 849.7 L79.5 856.1 L84.5 863.4 L89.5 859.2 L94.5 855.3 L99.5 858.2 L104.5 861.4 L109.5 862.2 L114.5 863.5 L119.5 877.6 L124.5 878.8 L129.5 885.2 L134.5 894.2 L139.5 895.3 L144.5 888.9 L149.5 877.4 L154.5 870.9 L159.5 866.2 L164.5 859.6 L169.5 845.5 L174.5 835.7 L179.5 832.9 L184.5 838.9 L189.5 843.1 L194.5 848.6 L199.5 847.0 L204.5 845.6 L209.5 853.4 L214.5 863.7 L219.5 868.5 L224.5 872.7 L229.5 869.2 L234.5 865.3 L239.5 852.7 L244.5 843.1 L249.5 832.8 L254.5 819.7 L259.5 821.0 L264.5 820.5 L269.5 829.1 L274.5 833.2 L279.5 835.4 L284.5 834.0 L289.5 833.8 L294.5 839.8 L299.5 850.5 L304.5 857.1 L309.5 867.7 L314.5 879.8 L319.5 896.6 L324.5 914.4 L329.5 911.7 L334.5 907.3 L339.5 902.3 L344.5 895.1 L349.5 887.0 L354.5 888.4 L359.5 876.6 L364.5 862.9 L369.5 848.3 L374.5 833.8 L379.5 820.7 L384.5 810.9 L389.5 806.1 L394.5 797.0 L399.5 789.3 L404.5 781.3 L409.5 772.3 L414.5 771.4 L419.5 770.9 L424.5 768.4 L429.5 762.9 L434.5 762.4 L439.5 764.9 L444.5 760.6 L449.5 753.5 L454.5 749.2 L459.5 742.7 L464.5 736.1 L469.5 732.8 L474.5 734.5 L479.5 736.1 L484.5 737.8 L489.5 735.0 L494.5 733.6 L499.5 732.8 L504.5 730.9 L509.5 729.5 L514.5 729.3 L519.5 731.1 L524.5 730.3 L529.5 729.5 L534.5 729.7 L539.5 730.4 L544.5 732.7 L549.5 732.4 L554.5 733.8 L559.5 735.6 L564.5 740.7 L569.5 749.1 L574.5 756.3 L579.5 756.4 L584.5 755.2 L589.5 752.7 L594.5 751.9 L599.5 749.3 L604.5 746.7 L609.5 744.9 L614.5 743.8 L619.5 739.0 L624.5 744.1 L629.5 748.8 L634.5 751.0 L639.5 755.2 L644.5 757.7 L649.5 757.6 L654.5 753.9 L659.5 750.5 L664.5 746.3 L669.5 744.2 L674.5 740.9 L679.5 738.3 L684.5 739.0 L689.5 737.7 L694.5 738.2 L699.5 737.5 L704.5 738.2 L709.5 738.4 L714.5 739.4 L719.5 740.7 L724.5 741.5 L729.5 738.2 L734.5 737.3 L739.5 736.5 L744.5 735.3 L749.5 734.4 L754.5 737.4 L759.5 742.2 L764.5 747.3 L769.5 746.4 L774.5 747.9 L779.5 756.5 L784.5 764.5 L789.5 772.2 L794.5 778.3 L799.5 794.8 L804.5 804.1 L809.5 807.4 L814.5 806.8 L819.5 809.8 L824.5 816.7 L829.5 818.3 L834.5 820.8 L839.5 827.8 L844.5 832.4 L849.5 836.9 L854.5 842.6 L859.5 845.5 L864.5 852.1 L869.5 861.7 L874.5 860.2 L879.5 856.4 L884.5 850.8 L889.5 840.7 L894.5 828.9 L899.5 819.4 L904.5 813.1 L909.5 805.8 L914.5 801.8 L919.5 796.3 L924.5 787.6 L929.5 779.3 L934.5 770.6 L939.5 764.8 L944.5 761.8 L949.5 765.1 L954.5 766.9 L959.5 766.0 L964.5 764.0 L969.5 759.4 L974.5 755.2 L979.5 749.8 L984.5 746.5 L989.5 747.2 L994.5 746.5 L999.5 743.9 L1004.5 742.9 L1009.5 740.7 L1014.5 739.1 L1019.5 739.9 L1024.5 742.5 L1029.5 744.3 L1034.5 749.1 L1039.5 751.0 L1044.5 750.7 L1049.5 748.3 L1054.5 750.5 L1059.5 748.7 L1064.5 749.5 L1069.5 751.4 L1074.5 757.5 L1079.5 765.6 L1084.5 776.8 L1089.5 797.5 L1094.5 809.1 L1099.5 816.8 L1104.5 815.1 L1109.5 817.2 L1114.5 822.5 L1119.5 819.9 L1124.5 827.9 L1129.5 834.1 L1134.5 832.8 L1139.5 827.1 L1144.5 824.6 L1149.5 819.0 L1154.5 816.1 L1159.5 823.5 L1164.5 824.5 L1169.5 826.3 L1174.5 825.9 L1179.5 820.2 L1184.5 816.3 L1189.5 816.7 L1194.5 812.2 L1199.5 802.7 L1204.5 795.9 L1209.5 791.4 L1214.5 787.8 L1219.5 781.4 L1224.5 775.9 L1229.5 772.5 L1234.5 770.9 L1239.5 768.5 L1244.5 767.3 L1249.5 766.6 L1254.5 769.2 L1259.5 771.6 L1264.5 778.7" fill="none" stroke="#303030" stroke-width="1.0" stroke-linejoin="round"/>
<ellipse cx="1269.5" cy="776.4" rx="40" ry="36" fill="none" stroke="#ed1c24" stroke-width="5"/>

<!-- bubbles -->
<g font-family="Liberation Sans, sans-serif" font-size="14.5" fill="#1a1a40">
<path d="M1059.500 178.500 h77.500 a4.500 4.500 0 0 1 4.500 4.500 v15 a4.500 4.500 0 0 1 -4.500 4.500 h-68.700 l-8.800 8 5 -8 h-5 a4.500 4.500 0 0 1 -4.500 -4.500 v-15 a4.500 4.500 0 0 1 4.500 -4.500z" fill="#dcdcdc" stroke="#9a9a9a" stroke-width="1"/>
<text x="1061" y="197.800">Hi: 8339.64</text>
<path d="M324 641.500 h4 l-4.300 -8.500 8.500 8.500 h71.300 a4.500 4.500 0 0 1 4.500 4.500 v15 a4.500 4.500 0 0 1 -4.500 4.500 h-79.500 a4.500 4.500 0 0 1 -4.500 -4.500 v-15 a4.500 4.500 0 0 1 4.500 -4.500z" fill="#dcdcdc" stroke="#9a9a9a" stroke-width="1"/>
<text x="325.600" y="660.600">Lo: 6190.17</text>
</g>
<!-- red note box -->
<rect x="1376.500" y="236" width="354" height="233" rx="16" ry="16" fill="none" stroke="#ed1c24" stroke-width="4"/>
<g font-family="Liberation Serif, serif" font-size="23.600" font-weight="bold" fill="#0a0a0a" stroke="#0a0a0a" stroke-width="0.350">
<text transform="translate(1393 279.700) scale(1.064 1)">The Nasdaq closed in a</text>
<text transform="translate(1393 306.700) scale(1.167 1)" font-weight="normal" fill="#ed1c24" stroke="#ed1c24" stroke-width="0.600">DOWNTREND</text>
<text transform="translate(1577.300 306.700) scale(1.064 1)">and below</text>
<text transform="translate(1393 333.700) scale(1.064 1)">key support (50sma), with</text>
<text transform="translate(1393 360.400) scale(1.064 1)">MACD bear cross.</text>
<text transform="translate(1393 414.400) scale(1.064 1)">Play defense until back</text>
<text transform="translate(1393 441.400) scale(1.064 1)">above 8200</text>
</g>
<!-- logo -->
<rect x="1430" y="152" width="246" height="106" fill="#ffffff"/>
<rect x="1436.500" y="160.200" width="233" height="89.500" fill="none" stroke="#000" stroke-width="3"/>
<rect x="1441.600" y="164.600" width="222.500" height="80" fill="none" stroke="#000" stroke-width="1.200"/>
<g fill="none" stroke-width="0.900">
<path d="M1541.500 196 v-13 l4 -1.200 v10 l-4 1.200 M1545.500 191.800 v-11 l4 -1.200 v10 l-4 1.200 M1549.500 189.500 v-10 l4 -1.200 v10 l-4 1.200 M1553.500 178 v11" stroke="#5aa52a"/>
<path d="M1560.500 178 v10 l4 1.200 v-10 l-4 -1.200 M1564.500 181 v10 l4 1.200 v-10 l-4 -1.200 M1568.500 183.500 v10 l4 1.200 v-10 l-4 -1.200 M1572.500 185 v11" stroke="#d64545"/>
</g>
<text transform="translate(1449.500 213.300) scale(1.745 1)" font-family="Liberation Serif, serif" font-size="16" font-weight="bold" fill="#222">Fitzstock Charts</text>
<path d="M1490 217.300 H1608" stroke="#000" stroke-width="1.600"/>
<text transform="translate(1481 234.100) scale(1.200 1)" font-family="Liberation Sans, sans-serif" font-size="12.500" font-weight="bold" fill="#0a0a28">www.fitzstock.com</text>

</svg>
<div class="abs" style="left:1743px;top:947.800px;font-size:14.600px;line-height:18px;color:#222">Drawing set: Default</div>
<div class="tri" style="left:1879px;top:957px"></div>
<svg class="abs" style="left:0;top:940px" width="1920" height="32" viewBox="0 940 1920 32" fill="none" stroke="#222" stroke-width="1.500">
<path d="M14 952 v8 l-4.500 -4z" fill="#555" stroke="none"/>
<path d="M1567 952.500 v7 l-4 -3.500z M1581 952.500 v7 l4 -3.500z" fill="#555" stroke="none"/>
<path d="M1600 951 v10 l-6 -5z M1607 951 v10 l6 -5z" fill="#222" stroke="none"/><path d="M1602 951.500 v9 M1604.500 951.500 v9" stroke-width="1.800"/>
<circle cx="1630" cy="957" r="6.500"/><path d="M1621 957 h18 M1630 948 v18"/>
<circle cx="1657" cy="954" r="7.200"/><path d="M1662 959 l6 6" stroke-width="2.500"/><path d="M1653.500 954 h7 M1657 950.500 v7"/>
<g stroke="#b4b4b4"><circle cx="1684" cy="954" r="7.200"/><path d="M1689 959 l6 6" stroke-width="2.500"/><path d="M1680.500 954 h7"/></g>
<g transform="translate(156.200 940)" stroke-width="1.500" stroke-linecap="round" stroke-linejoin="round"><path d="M1553.500 19.500 V9.200 a1.700 1.700 0 0 1 3.400 0 V15.500 M1556.900 14 a1.450 1.450 0 0 1 2.900 0 V16 M1559.800 15 a1.350 1.350 0 0 1 2.700 0 V17 M1562.500 16.300 a1.250 1.250 0 0 1 2.500 0 V21.500 q0 2.200 -1.800 4.600 H1551.800 q-0.400 -2.400 -2 -4.600 l-0.900 -2.800 q-0.200 -1.600 1.400 -1.600 q1.300 0 3.200 2.400"/></g>
</svg>
<svg class="abs" style="left:1815px;top:129px" width="26" height="24" viewBox="0 0 26 24" fill="none" stroke="#222" stroke-linecap="round"><path d="M3.300 3.500 h18.400 M3.300 21.500 h18.400" stroke-width="2.600"/><path d="M2.300 14.700 C3.500 18.500 6.500 19 9 17 C13 13.500 15 8 19 6.600 C21 6 22 8 22.400 10.300" stroke-width="1.500"/></svg>
</body></html>
